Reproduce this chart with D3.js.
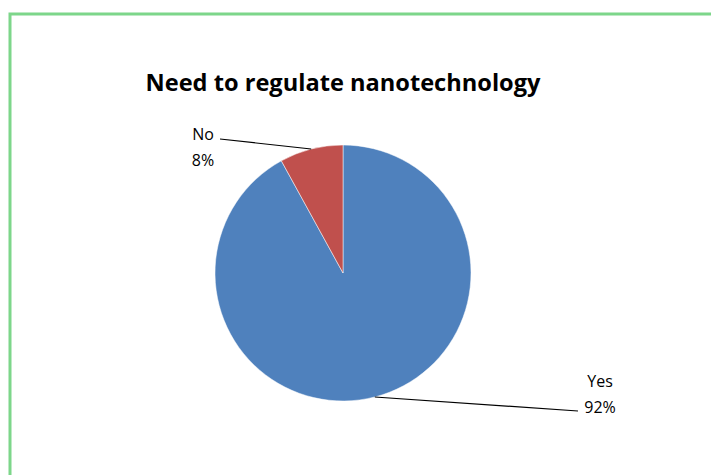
<!DOCTYPE html>
<html>
<head>
<meta charset="utf-8">
<script src="https://cdn.jsdelivr.net/npm/d3@7"></script>
<style>
  body { margin: 0; background: #fff; }
  text { font-family: "Open Sans", "Liberation Sans", Arial, sans-serif; }
</style>
</head>
<body>
<div class="pie"></div>
<script>
const categories = ["Yes", "No"]
const values = [92, 8]
const labels = ["92%", "8%"]
const colors = ["#4f81bd", "#c0504d"]

const dataset = categories.map((c, i) => ({ name: c, value: values[i], label: labels[i], color: colors[i] }))

const dimensions = {
  width: 711,
  height: 475,
  cx: 343,
  cy: 273,
  radius: 128,
}

const wrapper = d3.select(".pie")
  .append("svg")
  .attr("width", dimensions.width)
  .attr("height", dimensions.height)

// green frame, runs off the right and bottom edge
wrapper.append("rect")
  .attr("x", 10)
  .attr("y", 14)
  .attr("width", 720)
  .attr("height", 480)
  .attr("fill", "none")
  .attr("stroke", "#7dd68a")
  .attr("stroke-width", 3)

wrapper.append("text")
  .attr("x", dimensions.cx)
  .attr("y", 91)
  .attr("text-anchor", "middle")
  .style("font-size", "23px")
  .style("font-weight", "bold")
  .attr("textLength", 395)
  .attr("lengthAdjust", "spacingAndGlyphs")
  .text("Need to regulate nanotechnology")

const bounds = wrapper.append("g")
  .attr("transform", `translate(${dimensions.cx}, ${dimensions.cy})`)

const pieGenerator = d3.pie()
  .sort(null)
  .value(d => d.value)

const arcs = pieGenerator(dataset)

const arcGenerator = d3.arc()
  .innerRadius(0)
  .outerRadius(dimensions.radius)

bounds.selectAll("path")
  .data(arcs)
  .enter().append("path")
  .attr("d", arcGenerator)
  .attr("fill", d => d.data.color)
  .attr("stroke", "#fff")
  .attr("stroke-width", 0.5)

const edgePoint = d => {
  const a = (d.startAngle + d.endAngle) / 2
  return [Math.sin(a) * dimensions.radius, -Math.cos(a) * dimensions.radius]
}

// label placement relative to pie centre
const labelPos = {
  Yes: { line: [235, 138], text: [257, 114] },
  No: { line: [-123, -134], text: [-140, -133] },
}

bounds.selectAll(".leader")
  .data(arcs)
  .enter().append("line")
  .attr("class", "leader")
  .attr("x1", d => edgePoint(d)[0])
  .attr("y1", d => edgePoint(d)[1])
  .attr("x2", d => labelPos[d.data.name].line[0])
  .attr("y2", d => labelPos[d.data.name].line[1])
  .attr("stroke", "#000")
  .attr("stroke-width", 1.2)

const labelText = bounds.selectAll(".lbl")
  .data(arcs)
  .enter().append("text")
  .attr("class", "lbl")
  .attr("text-anchor", "middle")
  .style("font-size", "16px")
  .attr("fill", "#000")

labelText.append("tspan")
  .attr("x", d => labelPos[d.data.name].text[0])
  .attr("y", d => labelPos[d.data.name].text[1])
  .text(d => d.data.name)

labelText.append("tspan")
  .attr("x", d => labelPos[d.data.name].text[0])
  .attr("y", d => labelPos[d.data.name].text[1] + 26)
  .text(d => d.data.label)
</script>
</body>
</html>
